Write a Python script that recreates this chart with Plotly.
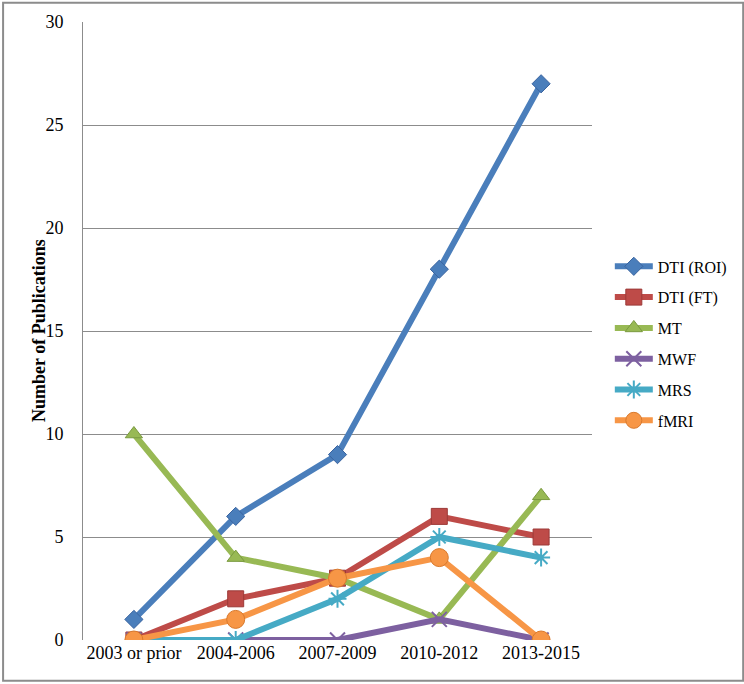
import plotly.graph_objects as go

# categories and series
periods = ['2003 or prior', '2004-2006', '2007-2009', '2010-2012', '2013-2015']
dti_roi = [1, 6, 9, 18, 27]
dti_ft = [0, 2, 3, 6, 5]
mt = [10, 4, 3, 1, 7]
mwf = [0, 0, 0, 1, 0]
mrs = [0, 0, 2, 5, 4]
fmri = [0, 1, 3, 4, 0]

y_ticks = [0, 5, 10, 15, 20, 25, 30]

# name, values, line colour, marker symbol, marker size, marker outline
series = [
    ('DTI (ROI)', dti_roi, '#4a7ebb', 'diamond', 14, '#3a64a0'),
    ('DTI (FT)', dti_ft, '#be4b48', 'square', 16, '#9c3a38'),
    ('MT', mt, '#98b954', 'triangle-up', 15, '#7a9a40'),
    ('MWF', mwf, '#7d60a0', 'x-thin-open', 15, '#7d60a0'),
    ('MRS', mrs, '#46aac5', 'asterisk-open', 15, '#46aac5'),
    ('fMRI', fmri, '#f79646', 'circle', 18, '#d9792c'),
]

fig = go.Figure()
for i, (name, vals, colour, symbol, size, outline) in enumerate(series):
    open_sym = symbol.endswith('open')
    fig.add_trace(go.Scatter(
        x=periods, y=vals, name=name, mode='lines+markers',
        legendgroup=f'g{i}',
        line=dict(color=colour, width=6),
        marker=dict(symbol=symbol, size=size, color=colour,
                    line=dict(color=outline, width=2 if open_sym else 1)),
    ))

font_family = 'Liberation Serif'

fig.update_layout(
    width=744, height=684,
    margin=dict(l=83, r=152, t=22, b=44),
    paper_bgcolor='white', plot_bgcolor='white',
    font=dict(family=font_family, size=17, color='black'),
    showlegend=True,
    legend=dict(x=1.035, y=0.632, xanchor='left', yanchor='top',
                font=dict(family=font_family, size=16),
                traceorder='grouped', tracegroupgap=7,
                itemwidth=38, bgcolor='rgba(0,0,0,0)'),
    xaxis=dict(type='category', range=[-0.5, 4.5], showgrid=False,
               showline=False, zeroline=False, ticks='',
               tickfont=dict(family=font_family, size=18), fixedrange=True),
    yaxis=dict(range=[0, 30], tickvals=y_ticks, showgrid=True,
               gridcolor='#8c8c8c', gridwidth=1, showline=True,
               linecolor='#8c8c8c', linewidth=1, zeroline=False,
               ticks='', ticklabelstandoff=15,
               tickfont=dict(family=font_family, size=18)),
)

# y axis title placed by hand so it sits close to the tick labels
fig.add_annotation(text='<b>Number of Publications</b>', textangle=-90,
                   xref='paper', yref='paper', x=-0.0864, y=0.5,
                   xanchor='center', yanchor='middle', showarrow=False,
                   font=dict(family=font_family, size=18))

# outer chart border
fig.add_shape(type='rect', xref='paper', yref='paper',
              x0=-0.157, x1=1.297, y0=-0.066, y1=1.031,
              line=dict(color='#8c8c8c', width=2), layer='below')

# drop the page's default body margin so the chart sits at the window edge
fig.write_html('out.html', config={'displayModeBar': False},
               post_script="document.body.style.margin='0px';"
                           "document.body.style.overflow='hidden';")
